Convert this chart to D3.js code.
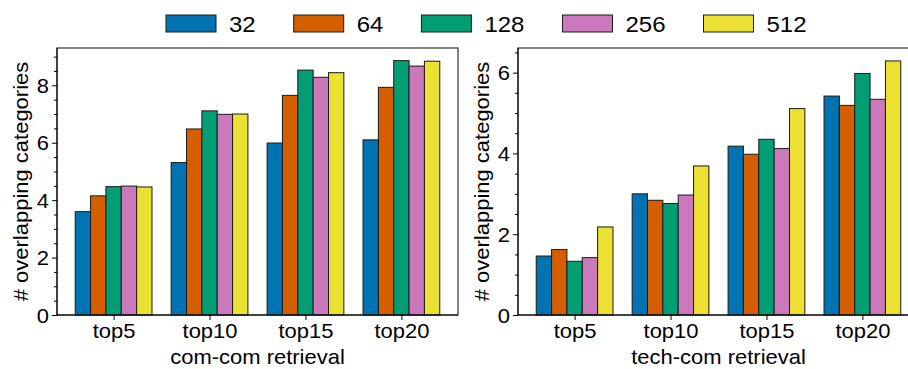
<!DOCTYPE html>
<html>
<head>
<meta charset="utf-8">
<script src="https://cdn.jsdelivr.net/npm/d3@7"></script>
<style>
  body { margin: 0; background: #fff; }
  text { font-family: "Liberation Sans", Arial, sans-serif; fill: #000; }
</style>
</head>
<body>
<div id="chart"></div>
<script>
// data
const groups = ["top5", "top10", "top15", "top20"];
const sizes = ["32", "64", "128", "256", "512"];
const colors = ["#0173b2", "#d55e00", "#029e73", "#cc78bc", "#ece133"];

// com-com retrieval, one array per size
const comCom = [
  [3.60, 5.31, 5.99, 6.10],
  [4.15, 6.48, 7.65, 7.93],
  [4.47, 7.11, 8.53, 8.86],
  [4.49, 6.99, 8.28, 8.67],
  [4.46, 7.00, 8.44, 8.84]
];
// tech-com retrieval
const techCom = [
  [1.46, 3.00, 4.18, 5.42],
  [1.62, 2.84, 3.98, 5.19],
  [1.33, 2.76, 4.35, 5.98],
  [1.42, 2.97, 4.12, 5.34],
  [2.18, 3.69, 5.11, 6.29]
];

const W = 908, H = 369;
const FS = 22, SQ = 0.9; // font is a bit wide and short in the original

const svg = d3.select("#chart").append("svg")
  .attr("width", W)
  .attr("height", H);

// squash glyph height, keep advance width
function squash(sel, k) {
  sel.each(function () {
    const t = d3.select(this);
    const x = +t.attr("x") || 0, y = +t.attr("y") || 0;
    const prev = t.attr("transform") || "";
    t.attr("x", null).attr("y", null)
      .attr("transform", `${prev} translate(${x},${y}) scale(1,${k})`);
  });
}

const plotTop = 48, plotBottom = 315, plotW = 401;

function drawPanel(left, values, yMax, yTicks, xlabel) {
  const g = svg.append("g").attr("transform", `translate(${left},0)`);

  // bars at 0..3, width 0.8, margins 5% like matplotlib
  const x = d3.scaleLinear().domain([-0.59, 3.59]).range([0, plotW]);
  const y = d3.scaleLinear().domain([0, yMax]).range([plotBottom, plotTop]);
  const bw = 0.8 / sizes.length;

  sizes.forEach((s, i) => {
    g.selectAll(null)
      .data(values[i])
      .join("rect")
      .attr("x", (d, j) => x(j - 0.4 + i * bw))
      .attr("width", x(bw) - x(0))
      .attr("y", d => y(d))
      .attr("height", d => y(0) - y(d))
      .attr("fill", colors[i])
      .attr("stroke", "#1a1a1a")
      .attr("stroke-width", 1);
  });

  // frame
  g.append("rect")
    .attr("x", 0).attr("y", plotTop)
    .attr("width", plotW).attr("height", plotBottom - plotTop)
    .attr("fill", "none")
    .attr("stroke", "#333")
    .attr("stroke-width", 1.2);

  // y axis, minor ticks every 0.5
  const minor = d3.range(0, yMax, 0.5).filter(v => yTicks.indexOf(v) < 0);
  g.append("g")
    .call(d3.axisLeft(y).tickValues(minor).tickSize(3).tickFormat(""))
    .call(a => a.select(".domain").remove());
  const ya = g.append("g")
    .call(d3.axisLeft(y).tickValues(yTicks).tickSize(5).tickPadding(3).tickFormat(d3.format("d")));
  ya.select(".domain").attr("d", `M0,${plotBottom}V${plotTop}`).attr("stroke", "#000");
  ya.selectAll("text").attr("font-size", FS).attr("dy", "0.36em").call(squash, SQ);

  // x axis
  const xa = g.append("g")
    .attr("transform", `translate(0,${plotBottom})`)
    .call(d3.axisBottom(x).tickValues([0, 1, 2, 3]).tickSize(5).tickPadding(4)
      .tickFormat(i => groups[i]));
  xa.select(".domain").attr("d", `M0,0H${plotW}`).attr("stroke", "#000");
  xa.selectAll("text").attr("font-size", FS).attr("y", 23).attr("dy", null).call(squash, SQ);

  g.append("text")
    .attr("x", plotW / 2)
    .attr("y", 364)
    .attr("text-anchor", "middle")
    .attr("font-size", FS)
    .text(xlabel)
    .call(squash, SQ);

  g.append("text")
    .attr("transform", `translate(-29,${(plotTop + plotBottom) / 2}) rotate(-90) scale(1,${SQ})`)
    .attr("text-anchor", "middle")
    .attr("font-size", FS)
    .text("# overlapping categories");
}

drawPanel(57, comCom, 9.3, [0, 2, 4, 6, 8], "com-com retrieval");
drawPanel(518, techCom, 6.61, [0, 2, 4, 6], "tech-com retrieval");

// legend, one row, columns spaced by label width
const leg = svg.append("g");
let lx = 166;
sizes.forEach((s, i) => {
  leg.append("rect")
    .attr("x", lx).attr("y", 15)
    .attr("width", 50).attr("height", 17)
    .attr("fill", colors[i])
    .attr("stroke", "#1a1a1a")
    .attr("stroke-width", 1);
  const t = leg.append("text")
    .attr("x", lx + 63)
    .attr("y", 32)
    .attr("font-size", 24)
    .text(s);
  const tw = t.node().getComputedTextLength();
  t.call(squash, 0.92);
  lx += 63 + tw + 38;
});
</script>
</body>
</html>
